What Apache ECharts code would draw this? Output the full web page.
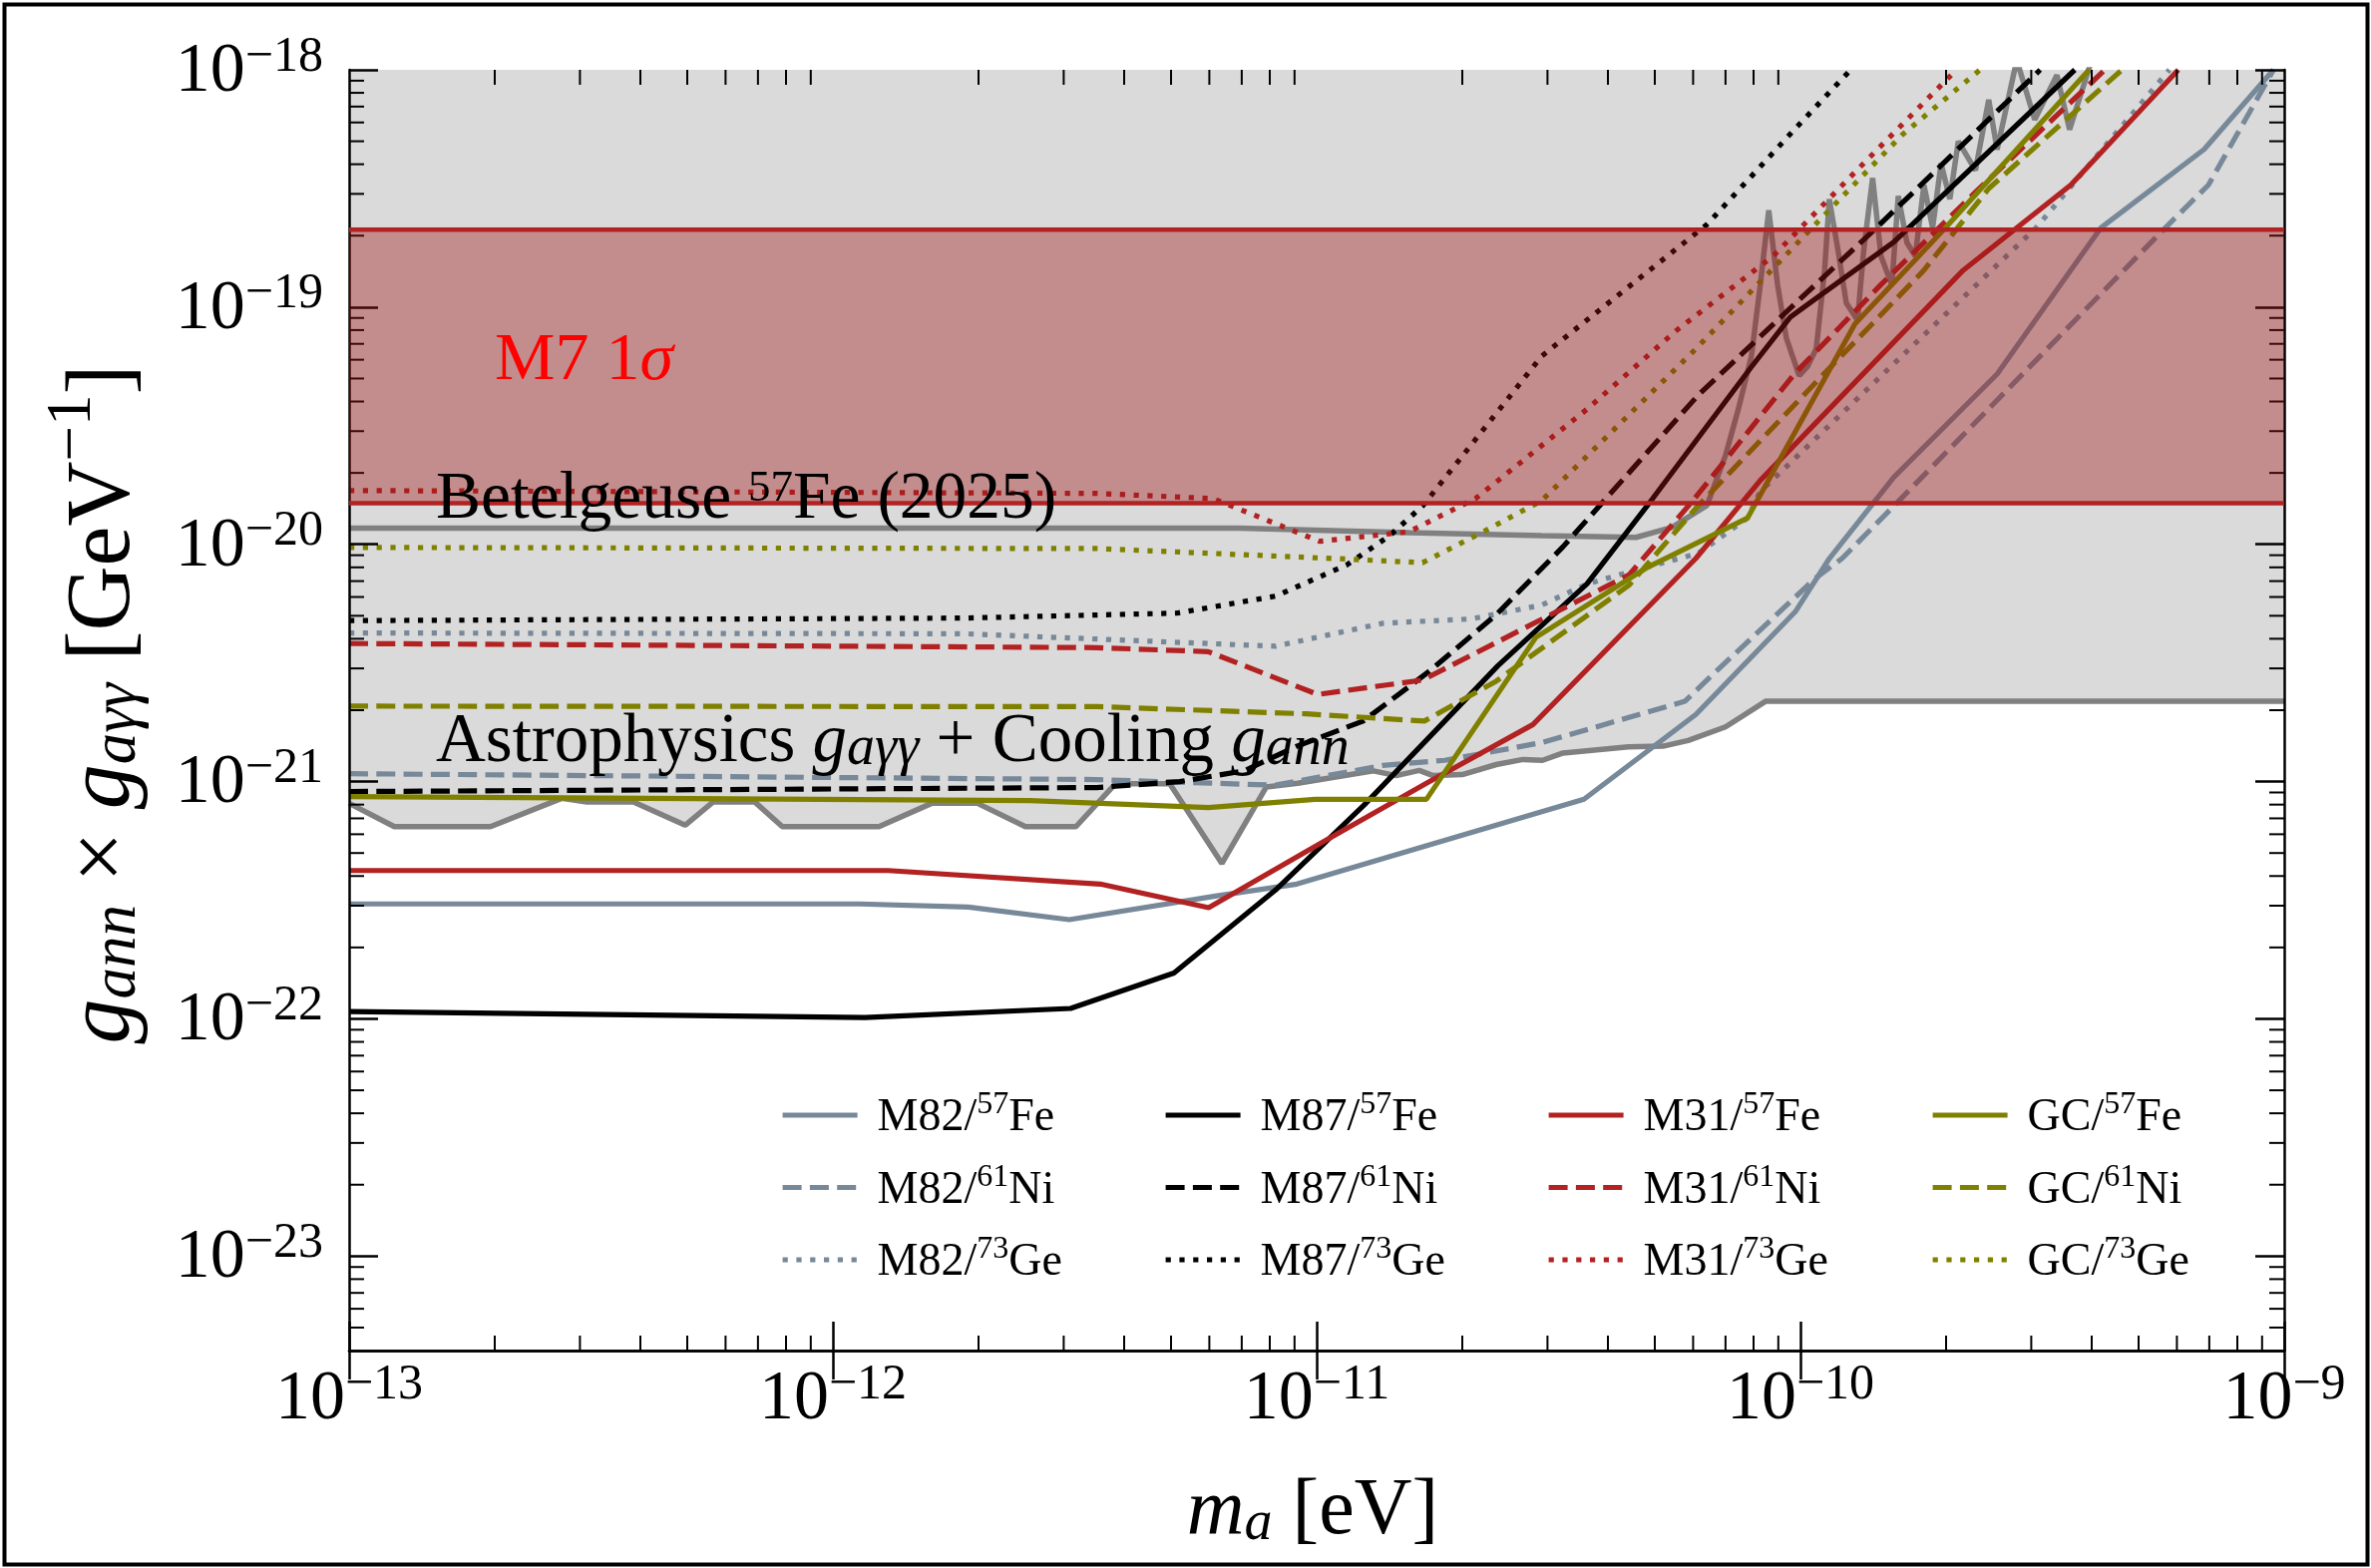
<!DOCTYPE html>
<html><head><meta charset="utf-8">
<script src="https://cdn.jsdelivr.net/npm/echarts@6/dist/echarts.min.js"></script>
<style>html,body{margin:0;padding:0;background:#fff}#c{width:2377px;height:1572px}</style>
</head><body><div id="c"></div>
<script>
// ---------------- data ----------------
const X_MIN = 1e-13, X_MAX = 1e-9, Y_MIN = 4e-24, Y_MAX = 1e-18;
const minorMultipliers = [2, 3, 4, 5, 6, 7, 8, 9];
const xMinorDecades = [-13, -12, -11, -10];
const yMinorDecades = [-24, -23, -22, -21, -20, -19];

const bandM7 = [1.49e-20, 2.12e-19];

const astroBound = [
  [1e-13, 8.1e-22], [1.24e-13, 6.46e-22], [1.96e-13, 6.46e-22], [2.75e-13, 8.5e-22],
  [3.1e-13, 8.2e-22], [3.87e-13, 8.2e-22], [4.95e-13, 6.55e-22], [5.65e-13, 8.2e-22],
  [6.9e-13, 8.2e-22], [7.86e-13, 6.46e-22], [1.245e-12, 6.46e-22], [1.6e-12, 8.1e-22],
  [1.99e-12, 8.1e-22], [2.5e-12, 6.46e-22], [3.18e-12, 6.46e-22], [3.84e-12, 9.8e-22],
  [4.97e-12, 9.8e-22], [6.37e-12, 4.52e-22], [7.87e-12, 9.5e-22], [9.14e-12, 9.84e-22],
  [1.31e-11, 1.11e-21], [1.46e-11, 1.06e-21], [1.63e-11, 1.115e-21], [1.74e-11, 1.06e-21],
  [2.0e-11, 1.07e-21], [2.35e-11, 1.18e-21], [2.67e-11, 1.24e-21], [2.93e-11, 1.23e-21],
  [3.23e-11, 1.32e-21], [4.41e-11, 1.40e-21], [5.2e-11, 1.41e-21], [5.86e-11, 1.49e-21],
  [7.0e-11, 1.70e-21], [8.47e-11, 2.18e-21], [1e-9, 2.18e-21]
];

const betelgeuse = [
  [1e-13, 1.17e-20], [6.93e-12, 1.17e-20], [1.55e-11, 1.12e-20], [2.92e-11, 1.087e-20],
  [4.57e-11, 1.07e-20], [5.43e-11, 1.18e-20], [6.41e-11, 1.46e-20], [7.0e-11, 2.37e-20],
  [7.44e-11, 3.71e-20], [7.92e-11, 6.22e-20], [8.26e-11, 1.24e-19], [8.6e-11, 2.56e-19],
  [8.97e-11, 1.24e-19], [9.35e-11, 7.41e-20], [9.94e-11, 5.14e-20], [1.033e-10, 5.6e-20],
  [1.078e-10, 6.67e-20], [1.122e-10, 1.43e-19], [1.147e-10, 2.85e-19], [1.195e-10, 1.75e-19],
  [1.244e-10, 1.04e-19], [1.312e-10, 8.8e-20], [1.352e-10, 1.75e-19], [1.41e-10, 3.5e-19],
  [1.467e-10, 1.64e-19], [1.545e-10, 1.24e-19], [1.593e-10, 2.94e-19], [1.66e-10, 1.87e-19],
  [1.727e-10, 1.64e-19], [1.8e-10, 3.27e-19], [1.876e-10, 2.16e-19], [1.953e-10, 4.03e-19],
  [2.036e-10, 2.85e-19], [2.12e-10, 5.0e-19], [2.3e-10, 3.77e-19], [2.45e-10, 7.48e-19],
  [2.55e-10, 4.61e-19], [2.8e-10, 1.1e-18], [3.05e-10, 6.16e-19], [3.39e-10, 9.5e-19],
  [3.6e-10, 5.6e-19], [4.0e-10, 1.1e-18]
];

const m82Fe = [
  [1e-13, 3.05e-22], [1.137e-12, 3.05e-22], [1.905e-12, 2.96e-22], [3.08e-12, 2.62e-22],
  [6.22e-12, 3.3e-22], [9.1e-12, 3.7e-22], [3.57e-11, 8.43e-22], [6.08e-11, 1.92e-21],
  [9.78e-11, 5.23e-21], [1.148e-10, 8.73e-21], [1.56e-10, 1.92e-20], [2.55e-10, 5.22e-20],
  [4.18e-10, 2.16e-19], [6.83e-10, 4.62e-19], [9.5e-10, 1e-18]
];
const m82Ni = [
  [1e-13, 1.08e-21], [3.51e-12, 1.02e-21], [8.22e-12, 9.66e-22], [1.37e-11, 1.17e-21],
  [1.84e-11, 1.23e-21], [2.92e-11, 1.46e-21], [5.77e-11, 2.18e-21], [6.58e-11, 2.82e-21],
  [1.074e-10, 7.2e-21], [1.22e-10, 8.73e-21], [1.59e-10, 1.51e-20], [5.68e-10, 2.16e-19],
  [6.97e-10, 3.27e-19], [9.5e-10, 1e-18]
];
const m82Ge = [
  [1e-13, 4.23e-21], [1.87e-12, 4.2e-21], [8.22e-12, 3.72e-21], [1.37e-11, 4.65e-21],
  [2.09e-11, 4.85e-21], [2.92e-11, 5.55e-21], [3.62e-11, 6.81e-21], [4.48e-11, 7.7e-21],
  [6.15e-11, 9.17e-21], [7.77e-11, 1.29e-20], [8.26e-11, 1.67e-20], [3.07e-10, 2.16e-19],
  [5.79e-10, 1e-18]
];
const m87Fe = [
  [1e-13, 1.074e-22], [1.164e-12, 1.014e-22], [3.1e-12, 1.107e-22], [5.07e-12, 1.56e-22],
  [8.22e-12, 3.49e-22], [1.256e-11, 8.0e-22], [2.37e-11, 3.08e-21], [3.62e-11, 6.81e-21],
  [4.95e-11, 1.56e-20], [7.92e-11, 5.6e-20], [9.53e-11, 9.08e-20], [1.56e-10, 1.88e-19],
  [3.69e-10, 1e-18]
];
const m87Ni = [
  [1e-13, 9.08e-22], [3.51e-12, 9.44e-22], [5.21e-12, 1.0e-21], [7.08e-12, 1.11e-21],
  [9.1e-12, 1.41e-21], [1.248e-11, 1.8e-21], [1.71e-11, 2.92e-21], [2.35e-11, 5.05e-21],
  [3.23e-11, 9.77e-21], [6.15e-11, 4.26e-20], [9.78e-11, 1.04e-19], [1.436e-10, 2.16e-19],
  [3.13e-10, 1e-18]
];
const m87Ge = [
  [1e-13, 4.77e-21], [1.87e-12, 4.89e-21], [5.14e-12, 5.13e-21], [8.22e-12, 6.05e-21],
  [1.154e-11, 8.19e-21], [1.417e-11, 1.09e-20], [1.66e-11, 1.46e-20], [2.92e-11, 6.22e-20],
  [6.41e-11, 2.23e-19], [9.78e-11, 5.68e-19], [1.27e-10, 1e-18]
];
const m31Fe = [
  [1e-13, 4.22e-22], [1.3e-12, 4.22e-22], [3.57e-12, 3.7e-22], [5.98e-12, 2.94e-22],
  [1.014e-11, 5.47e-22], [1.686e-11, 9.84e-22], [2.8e-11, 1.74e-21], [6.08e-11, 8.73e-21],
  [8.26e-11, 1.86e-20], [2.17e-10, 1.43e-19], [3.62e-10, 3.27e-19], [6.04e-10, 1e-18]
];
const m31Ni = [
  [1e-13, 3.82e-21], [3.51e-12, 3.67e-21], [5.97e-12, 3.53e-21], [1.005e-11, 2.33e-21],
  [1.655e-11, 2.68e-21], [4.42e-11, 7.43e-21], [5.98e-11, 1.52e-20], [9.71e-11, 5.22e-20],
  [1.465e-10, 1.24e-19], [2.3e-10, 3.05e-19], [4.26e-10, 1e-18]
];
const m31Ge = [
  [1e-13, 1.686e-20], [3.51e-12, 1.64e-20], [6.1e-12, 1.56e-20], [1.014e-11, 1.03e-20],
  [1.55e-11, 1.13e-20], [2.13e-11, 1.56e-20], [3.62e-11, 3.71e-20], [5.52e-11, 7.92e-20],
  [8.78e-11, 1.64e-19], [1.324e-10, 3.87e-19], [2.1e-10, 1e-18]
];
const gcFe = [
  [1e-13, 8.65e-22], [2.56e-12, 8.32e-22], [5.97e-12, 7.78e-22], [9.93e-12, 8.42e-22],
  [1.686e-11, 8.42e-22], [2.84e-11, 4.06e-21], [4.79e-11, 7.93e-21], [7.77e-11, 1.29e-20],
  [1.296e-10, 8.49e-20], [1.995e-10, 2.16e-19], [3.95e-10, 1e-18]
];
const gcNi = [
  [1e-13, 2.08e-21], [3.51e-12, 2.07e-21], [9.53e-12, 1.93e-21], [1.67e-11, 1.8e-21],
  [2.35e-11, 2.65e-21], [4.43e-11, 6.75e-21], [6.08e-11, 1.42e-20], [1.1e-10, 5.05e-20],
  [1.8e-10, 1.43e-19], [2.45e-10, 3.16e-19], [4.62e-10, 1e-18]
];
const gcGe = [
  [1e-13, 9.7e-21], [3.51e-12, 9.6e-21], [1.154e-11, 8.67e-21], [1.655e-11, 8.37e-21],
  [2.21e-11, 1.13e-20], [2.92e-11, 1.53e-20], [6.08e-11, 6.67e-20], [1.057e-10, 2.16e-19],
  [1.62e-10, 5.3e-19], [2.35e-10, 1e-18]
];

const seriesNames = [
  'M82/57Fe', 'M82/61Ni', 'M82/73Ge',
  'M87/57Fe', 'M87/61Ni', 'M87/73Ge',
  'M31/57Fe', 'M31/61Ni', 'M31/73Ge',
  'GC/57Fe', 'GC/61Ni', 'GC/73Ge'
];
const seriesData = [m82Fe, m82Ni, m82Ge, m87Fe, m87Ni, m87Ge, m31Fe, m31Ni, m31Ge, gcFe, gcNi, gcGe];

const textM7 = ['M7 1', 'σ'];
const textBetel = ['Betelgeuse ', '57', 'Fe (2025)'];
const textAstro = ['Astrophysics ', 'g', 'aγγ', ' + Cooling ', 'g', 'ann'];
const textYTitle = ['g', 'ann', ' × ', 'g', 'aγγ', ' [GeV', '\u22121', ']'];
const textXTitle = ['m', 'a', ' [eV]'];

// ---------------- styles ----------------
const SERIF = '"Liberation Serif", "Times New Roman", serif';
const galaxyColor = { M82: '#778899', M87: '#000000', M31: '#b22222', GC: '#808000' };
const LW = 5.2;
const DASH = [19, 8.3];
const DOT = [5.2, 8.6];
const isoDash = { '57Fe': 'solid', '61Ni': DASH, '73Ge': DOT };

function rs(fs, lh, va, italic, color) {
  return { fontFamily: SERIF, fontSize: fs, lineHeight: lh, verticalAlign: va,
    fontStyle: italic ? 'italic' : 'normal', color: color || '#000', fill: color || '#000' };
}

function powLabel(v) {
  const e = Math.log10(v), r = Math.round(e);
  if (Math.abs(e - r) > 1e-6) return '';
  return '{b|10}{s|' + (r < 0 ? '\u2212' : '') + Math.abs(r) + '}';
}
const tickRich = { b: rs(70, 75, 'bottom'), s: rs(50, 44, 'top') };

function legendFmt(name) {
  const parts = name.split('/');
  const m = parts[1].match(/^(\d+)(\D+)$/);
  return '{t|' + parts[0] + '/}{s|' + m[1] + '}{t|' + m[2] + '}';
}
const legendRich = { t: rs(46, 52, 'bottom'), s: rs(32, 26, 'top') };

const minorX = [];
xMinorDecades.forEach(k => minorMultipliers.forEach(m => minorX.push(m * Math.pow(10, k))));
const minorY = [];
yMinorDecades.forEach(k => minorMultipliers.forEach(m => {
  const v = m * Math.pow(10, k);
  if (v > Y_MIN * 1.0001 && v < Y_MAX) minorY.push(v);
}));

const MINOR_LEN = 15;
function tickLine(x1, y1, x2, y2) {
  return { type: 'line', shape: { x1, y1, x2, y2 }, style: { stroke: '#000', lineWidth: 2 } };
}

const curveSeries = seriesNames.map((name, i) => {
  const [gal, iso] = name.split('/');
  const color = galaxyColor[gal];
  return {
    type: 'line', name, data: seriesData[i], symbol: 'none', showSymbol: false, z: 3, silent: true,
    lineStyle: { color, width: LW, type: isoDash[iso] }, itemStyle: { color }
  };
});

function makeAxis(pos, showLabel) {
  const isX = pos === 'bottom' || pos === 'top';
  return {
    type: 'log', logBase: 10, position: pos, z: 50,
    min: isX ? X_MIN : Y_MIN, max: isX ? X_MAX : Y_MAX,
    axisLine: { show: true, lineStyle: { color: '#000', width: 2.5 } },
    axisTick: { show: true, inside: true, length: 29, lineStyle: { color: '#000', width: 2.5 } },
    axisLabel: showLabel ? { show: true, margin: isX ? 10 : 26, formatter: powLabel, rich: tickRich } : { show: false },
    splitLine: { show: false }, minorTick: { show: false }, minorSplitLine: { show: false }
  };
}

const legendCols = [0, 1, 2, 3].map(c => seriesNames.slice(c * 3, c * 3 + 3));
const legendLeft = [782, 1166, 1550, 1935];

const option = {
  animation: false,
  backgroundColor: '#ffffff',
  grid: { left: 350, top: 70, width: 1940, height: 1284, show: false, containLabel: false, outerBoundsMode: 'none' },
  xAxis: [makeAxis('bottom', true), makeAxis('top', false)],
  yAxis: [makeAxis('left', true), makeAxis('right', false)],
  legend: legendCols.map((names, i) => ({
    data: names, orient: 'vertical', left: legendLeft[i], top: 1092,
    itemWidth: 75, itemHeight: 20, itemGap: 20.5, padding: 0, z: 100,
    selectedMode: false, formatter: legendFmt,
    lineStyle: { width: LW },
    itemStyle: { opacity: 0, borderWidth: 0 },
    textStyle: { fontFamily: SERIF, fontSize: 46, lineHeight: 52, color: '#000', padding: [0, 0, 0, 15], rich: legendRich }
  })),
  series: [
    {
      type: 'line', name: 'astro', data: astroBound, symbol: 'none', z: 1, silent: true,
      lineStyle: { color: '#808080', width: 5.5 },
      areaStyle: { color: '#dadada', opacity: 1, origin: 'end' }
    },
    {
      type: 'line', name: 'betelgeuse', data: betelgeuse, symbol: 'none', z: 2, silent: true,
      lineStyle: { color: '#808080', width: 5.5 }
    },
    ...curveSeries,
    {
      type: 'custom', name: 'minorX', coordinateSystem: 'cartesian2d', z: 55, silent: true, clip: false,
      data: minorX.map(v => [v, Y_MIN]),
      renderItem: (params, api) => {
        const v = api.value(0);
        const b = api.coord([v, Y_MIN]), t = api.coord([v, Y_MAX]);
        return { type: 'group', children: [
          tickLine(b[0], b[1], b[0], b[1] - MINOR_LEN),
          tickLine(t[0], t[1], t[0], t[1] + MINOR_LEN)
        ] };
      }
    },
    {
      type: 'custom', name: 'minorY', coordinateSystem: 'cartesian2d', z: 55, silent: true, clip: false,
      data: minorY.map(v => [X_MIN, v]),
      renderItem: (params, api) => {
        const v = api.value(1);
        const l = api.coord([X_MIN, v]), r = api.coord([X_MAX, v]);
        return { type: 'group', children: [
          tickLine(l[0], l[1], l[0] + MINOR_LEN, l[1]),
          tickLine(r[0], r[1], r[0] - MINOR_LEN, r[1])
        ] };
      }
    },
    {
      type: 'custom', name: 'M7 band', coordinateSystem: 'cartesian2d', z: 60, silent: true, clip: false,
      data: [[X_MIN, bandM7[0], X_MAX, bandM7[1]]],
      encode: { x: [0, 2], y: [1, 3] },
      renderItem: (params, api) => {
        const p0 = api.coord([api.value(0), api.value(1)]);
        const p1 = api.coord([api.value(2), api.value(3)]);
        return { type: 'group', children: [
          { type: 'rect', shape: { x: p0[0], y: p1[1], width: p1[0] - p0[0], height: p0[1] - p1[1] },
            style: { fill: 'rgba(160,20,20,0.39)' } },
          { type: 'line', shape: { x1: p0[0], y1: p0[1], x2: p1[0], y2: p0[1] }, style: { stroke: '#b22222', lineWidth: 4.5 } },
          { type: 'line', shape: { x1: p0[0], y1: p1[1], x2: p1[0], y2: p1[1] }, style: { stroke: '#b22222', lineWidth: 4.5 } }
        ] };
      }
    }
  ],
  graphic: [
    { type: 'rect', z: 100, silent: true, shape: { x: 4.5, y: 4.5, width: 2369, height: 1564 },
      style: { fill: 'transparent', stroke: '#000', lineWidth: 4 } },
    { type: 'text', z: 100, silent: true, x: 496, y: 396,
      style: { text: '{r|' + textM7[0] + '}{ri|' + textM7[1] + '}', align: 'left', verticalAlign: 'bottom',
        rich: { r: rs(68, 68, 'bottom', false, '#ff0000'), ri: rs(68, 68, 'bottom', true, '#ff0000') } } },
    { type: 'text', z: 100, silent: true, x: 437, y: 535,
      style: { text: '{t|' + textBetel[0] + '}{s|' + textBetel[1] + '}{t|' + textBetel[2] + '}', align: 'left', verticalAlign: 'bottom',
        rich: { t: rs(67.5, 67.5, 'bottom'), s: rs(45, 21, 'top') } } },
    { type: 'text', z: 100, silent: true, x: 437, y: 779,
      style: { text: '{t|' + textAstro[0] + '}{i|' + textAstro[1] + '}{sub|' + textAstro[2] + '}{t|' + textAstro[3] + '}{i|' + textAstro[4] + '}{sub|' + textAstro[5] + '}',
        align: 'left', verticalAlign: 'bottom',
        rich: { t: rs(69, 69, 'bottom'), i: rs(69, 69, 'bottom', true), sub: rs(56, 48, 'bottom', true) } } },
    { type: 'text', z: 100, silent: true, x: 1316, y: 1556,
      style: { text: '{i|' + textXTitle[0] + '}{sub|' + textXTitle[1] + '}{t|' + textXTitle[2] + '}', align: 'center', verticalAlign: 'bottom',
        rich: { i: rs(80, 96, 'bottom', true), sub: rs(56, 48, 'bottom', true), t: rs(80, 96, 'bottom') } } },
    { type: 'text', z: 100, silent: true, x: 150, y: 706, rotation: Math.PI / 2,
      style: { text: '{i|' + textYTitle[0] + '}{sub|' + textYTitle[1] + '}{t|' + textYTitle[2] + '}{i|' + textYTitle[3] + '}{sub|' + textYTitle[4] + '}{t|' + textYTitle[5] + '}{sup|' + textYTitle[6] + '}{t|' + textYTitle[7] + '}',
        align: 'center', verticalAlign: 'bottom',
        rich: { i: rs(90, 108, 'bottom', true), sub: rs(63, 61, 'bottom', true), t: rs(90, 108, 'bottom'), sup: rs(63, 55, 'top') } } }
  ]
};

const chart = echarts.init(document.getElementById('c'), null, { renderer: 'canvas', width: 2377, height: 1572 });
chart.setOption(option);
</script></body></html>
